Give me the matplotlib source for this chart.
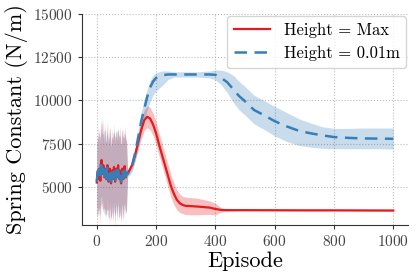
import matplotlib
matplotlib.use("Agg")
import matplotlib.pyplot as plt
import numpy as np

plt.rcParams['font.family'] = ['cmr10', 'DejaVu Serif']
plt.rcParams['mathtext.fontset'] = 'cm'
plt.rcParams['axes.formatter.use_mathtext'] = True

# ---- data ----
ep_noise = list(range(0, 101, 2))
red_noise = [5250, 5750, 5950, 5450, 6050, 5850, 5350, 6350, 6550, 6150, 5750, 6250, 5950, 5550, 6050, 5700,
             5450, 5950, 6250, 5550, 5300, 5800, 6050, 5700, 5200, 5600, 5950, 5450, 5800, 6150, 5700, 5300,
             5950, 6050, 5550, 5800, 6250, 5700, 5450, 5950, 5600, 5200, 5800, 6050, 5700, 5450, 5950, 6200,
             5800, 5550, 5750]
blue_noise = [5300, 5700, 5900, 5500, 6000, 5800, 5400, 6300, 6500, 6100, 5800, 6200, 5900, 5600, 6000, 5700, 5500,
              5900, 6200, 5600, 5400, 5800, 6000, 5700, 5300, 5600, 5900, 5500, 5800, 6100, 5700, 5400, 5900, 6000,
              5600, 5800, 6200, 5700, 5500, 5900, 5600, 5300, 5800, 6000, 5700, 5500, 5900, 6100, 5800, 5600, 5700]
noise_hw_blue = [2000, 2300, 1900, 2400, 2100, 2500, 1800, 2200, 2600, 2000, 2300, 1900, 2400, 2200, 2700, 2000,
                 2100, 2500, 1900, 2300, 2200, 2600, 1800, 2400, 2100, 2000, 2500, 2300, 1900, 2600, 2200, 2000,
                 2400, 2100, 2700, 1900, 2300, 2200, 2500, 2000, 2400, 2100, 1800, 2300, 2600, 2000, 2200, 1900,
                 2400, 2100, 2000]
noise_hw_red = [2200, 1900, 2500, 2100, 2300, 2000, 2600, 1900, 2200, 2400, 2000, 2700, 2100, 1900, 2300, 2500,
                2000, 2200, 2600, 1900, 2400, 2100, 2300, 2700, 2000, 2200, 1900, 2500, 2400, 2000, 2300, 2600,
                1900, 2200, 2100, 2500, 2000, 2400, 2200, 2600, 1900, 2300, 2500, 2000, 2200, 2400, 1900, 2300,
                2100, 2000, 2200]

ep_red = [104, 110, 120, 130, 140, 150, 160, 170, 180, 190, 200, 210, 220, 230, 240, 250, 260, 270, 280, 290,
          300, 320, 340, 360, 380, 400, 420, 450, 500, 600, 700, 800, 900, 1000]
red_mean = [5800, 5950, 6300, 6900, 7600, 8300, 8850, 9050, 8950, 8600, 8100, 7450, 6850, 6250, 5650, 5050,
            4600, 4250, 4050, 3950, 3900, 3880, 3860, 3830, 3800, 3720, 3660, 3650, 3650, 3645, 3640, 3640,
            3635, 3630]
red_hw = [150, 150, 200, 300, 450, 550, 600, 620, 650, 650, 650, 650, 650, 650, 650, 650, 620, 580, 530, 500,
          500, 500, 480, 430, 390, 340, 120, 50, 30, 30, 30, 30, 30, 30]

ep_blue = [104, 110, 120, 130, 140, 150, 160, 170, 180, 190, 200, 220, 240, 260, 300, 340, 380, 400, 420, 440,
           460, 480, 500, 530, 560, 600, 640, 680, 720, 760, 800, 850, 900, 950, 1000]
blue_mean = [5750, 5900, 6300, 7000, 7900, 8800, 9500, 10200, 10750, 11100, 11300, 11450, 11500, 11500, 11500,
             11500, 11500, 11480, 11300, 11050, 10650, 10250, 9950, 9450, 9180, 8800, 8500, 8250, 8100, 7980,
             7880, 7830, 7800, 7790, 7780]
blue_up = [100, 150, 200, 300, 400, 500, 500, 450, 400, 350, 300, 250, 200, 150, 150, 150, 200, 280, 450, 600,
           800, 850, 850, 850, 850, 850, 800, 700, 600, 500, 500, 550, 600, 610, 620]
blue_lo = [150, 250, 400, 500, 600, 700, 700, 750, 800, 800, 750, 600, 300, 150, 150, 150, 200, 300, 400, 600,
           750, 800, 800, 800, 820, 850, 870, 850, 800, 750, 680, 630, 600, 590, 590]

# ---- assemble ----
er = np.array(ep_noise + ep_red, dtype=float)
rm = np.array(red_noise + red_mean, dtype=float)
rh = np.array(noise_hw_red + red_hw, dtype=float)
eb = np.array(ep_noise + ep_blue, dtype=float)
bm = np.array(blue_noise + blue_mean, dtype=float)
bu = np.array(noise_hw_blue + blue_up, dtype=float)
bl = np.array(noise_hw_blue + blue_lo, dtype=float)

red = '#e41a1c'
blue = '#377eb8'

fig = plt.figure(figsize=(4.16, 2.79), dpi=100)
ax = fig.add_axes([0.197, 0.194, 0.784, 0.756])

ax.fill_between(er, rm - rh, rm + rh, color=red, alpha=0.28, lw=0, zorder=1)
ax.fill_between(eb, bm - bl, bm + bu, color=blue, alpha=0.27, lw=0, zorder=1)
ax.plot(er, rm, color=red, lw=1.6, label='Height = Max', zorder=3)
ax.plot(eb, bm, color=blue, lw=1.8, ls=(0, (5, 3)), label='Height = 0.01m', zorder=4)

ax.set_xlim(-50, 1050)
ax.set_ylim(2800, 15000)
ax.set_xticks([0, 200, 400, 600, 800, 1000])
ax.set_yticks([5000, 7500, 10000, 12500, 15000])
ax.grid(True, ls=':', color='#bbbbbb', lw=0.8)
ax.set_axisbelow(True)
for s in ['top', 'right']:
    ax.spines[s].set_visible(False)
for s in ['left', 'bottom']:
    ax.spines[s].set_color('#333333')
ax.tick_params(labelsize=11, colors='#333333', labelcolor='#444444', length=3, width=0.8)
ax.set_xlabel('Episode', fontsize=16, labelpad=2)
ax.set_ylabel('Spring Constant (N/m)', fontsize=16, labelpad=4)
leg = ax.legend(loc='upper right', fontsize=12, handlelength=2.2, borderaxespad=0.1, framealpha=0.8)

fig.savefig('out.png', dpi=100)
